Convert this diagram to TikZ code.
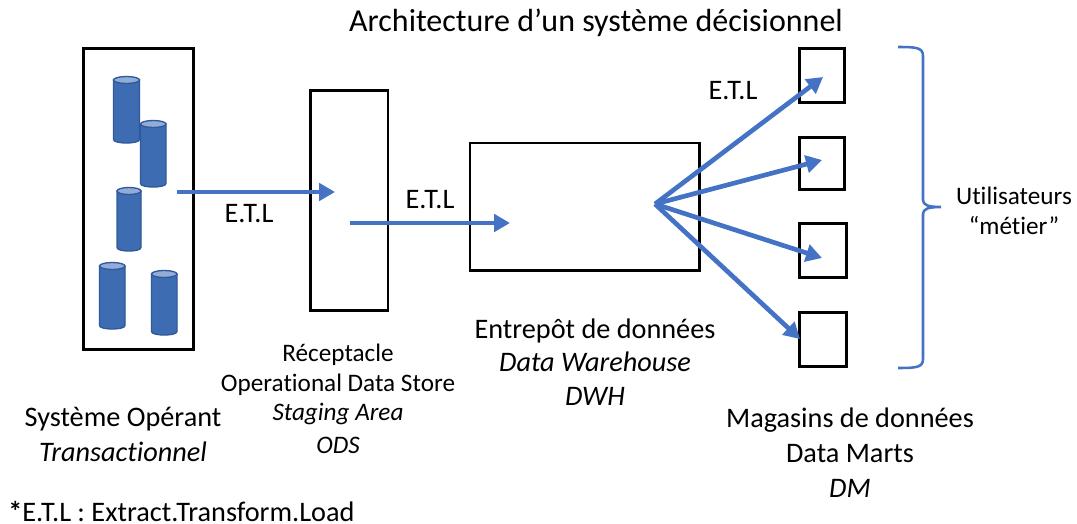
\documentclass[tikz,border=0pt]{standalone}
\usepackage{fontspec}
\setmainfont[Ligatures=CommonOff]{Carlito}
\usetikzlibrary{arrows.meta}
\definecolor{fleche}{HTML}{4472C4}
\definecolor{cylbody}{HTML}{3E6CB3}
\definecolor{cyltop}{HTML}{93ABD9}
\definecolor{cyledge}{HTML}{2F5A9A}
\tikzset{
  x=0.75pt,y=-0.75pt,
  boite/.style={draw=black,line width=2.1pt,fill=none,inner sep=0pt,outer sep=0pt,anchor=north west},
  corps/.style={draw=cyledge,line width=1pt,fill=cylbody},
  dessus/.style={draw=cyledge,line width=1pt,fill=cyltop},
  fluxa/.style={draw=fleche,line width=3.5pt,-{Triangle[length=12pt,width=13pt]}},
  accolade/.style={draw=fleche,line width=1.9pt},
  txt/.style={font=\fontsize{21.2pt}{25pt}\selectfont,text=black,inner sep=0pt,anchor=center},
  titre/.style={font=\fontsize{24pt}{28pt}\selectfont,text=black,inner sep=0pt,anchor=center},
  petit/.style={font=\fontsize{18.9pt}{22pt}\selectfont,text=black,inner sep=0pt,anchor=center},
}
% #1 left, #2 right, #3 top, #4 bottom (reference pixels)
\newcommand{\basecyl}[4]{%
  \pgfmathsetmacro{\cylmid}{(#1+#2)/2}%
  \pgfmathsetmacro{\cyltopy}{#3+3.5}%
  \pgfmathsetmacro{\cylboty}{#4-3.5}%
  \pgfmathsetmacro{\cylctl}{#4+1.2}%
  \draw[corps] (#1,\cyltopy) -- (#1,\cylboty) .. controls (#1,\cylctl) and (#2,\cylctl) .. (#2,\cylboty) -- (#2,\cyltopy) -- cycle;
  \draw[dessus] (\cylmid,\cyltopy) ellipse [x radius=#2/2-#1/2, y radius=3.5];
}
\begin{document}
\begin{tikzpicture}
\useasboundingbox (0,0) rectangle (1077,524);
\node[boite,minimum width=82.9pt,minimum height=226pt] (sys) at (83.25,48.25) {};
\node[boite,minimum width=58.1pt,minimum height=165pt] (ods) at (310.5,90.5) {};
\node[boite,minimum width=172pt,minimum height=95.6pt] (dwh) at (470,143) {};
\node[boite,minimum width=34.1pt,minimum height=40.9pt] (dm1) at (799.25,48.25) {};
\node[boite,minimum width=34.1pt,minimum height=39.4pt] (dm2) at (799.25,137.25) {};
\node[boite,minimum width=35.6pt,minimum height=40.9pt] (dm3) at (799.25,223.25) {};
\node[boite,minimum width=35.6pt,minimum height=40.9pt] (dm4) at (799.25,312.25) {};
\basecyl{113.5}{139.5}{76.5}{143}
\basecyl{140.5}{166}{120.5}{187}
\basecyl{117}{141}{187.5}{251}
\basecyl{99.5}{125}{262.5}{329}
\basecyl{151.5}{177}{270.5}{335}
\coordinate (a1s) at (177,192);
\coordinate (a1e) at (335,192);
\coordinate (a2s) at (350,223);
\coordinate (a2e) at (510,223);
\coordinate (fan) at (655,204);
\coordinate (f1) at (823,77);
\coordinate (f2) at (822,160);
\coordinate (f3) at (822,258);
\coordinate (f4) at (800,339);
\draw[fluxa] (a1s) -- (a1e);
\draw[fluxa] (a2s) -- (a2e);
\draw[fluxa] (fan) -- (f1);
\draw[fluxa] (fan) -- (f2);
\draw[fluxa] (fan) -- (f3);
\draw[fluxa] (fan) -- (f4);
\draw[accolade] (898,47) .. controls (916,47) and (923,47.5) .. (923,56) -- (923,200)
  .. controls (923,205) and (928,207) .. (941,207) .. controls (928,207) and (923,209) .. (923,214)
  -- (923,359) .. controls (923,367.5) and (916,368) .. (898,368);
\node[titre] (t0) at (596,23) {Architecture d’un système décisionnel};
\node[txt] (e1) at (249,214) {E.T.L};
\node[txt] (e2) at (430,200) {E.T.L};
\node[txt] (e3) at (733,91) {E.T.L};
\node[petit] (o1) at (338,355) {Réceptacle};
\node[petit] (o2) at (338,385) {Operational Data Store};
\node[petit] (o3) at (338,414) {\itshape Staging Area};
\node[petit] (o4) at (338,445) {\itshape ODS};
\node[txt] (w1) at (595,331) {Entrepôt de données};
\node[txt] (w2) at (595,362) {\itshape Data Warehouse};
\node[txt] (w3) at (595,396) {\itshape DWH};
\node[txt] (s1) at (123,419) {Système Opérant};
\node[txt] (s2) at (123,452) {\itshape Transactionnel};
\node[txt] (m1) at (850,420) {Magasins de données};
\node[txt] (m2) at (850,454) {Data Marts};
\node[txt] (m3) at (850,488) {\itshape DM};
\node[txt,anchor=west] (n) at (8,511) {\textbf{*}E.T.L : Extract.Transform.Load};
\node[petit] (u1) at (1014,196) {Utilisateurs};
\node[petit] (u2) at (1014,226) {“métier”};
\end{tikzpicture}
\end{document}
